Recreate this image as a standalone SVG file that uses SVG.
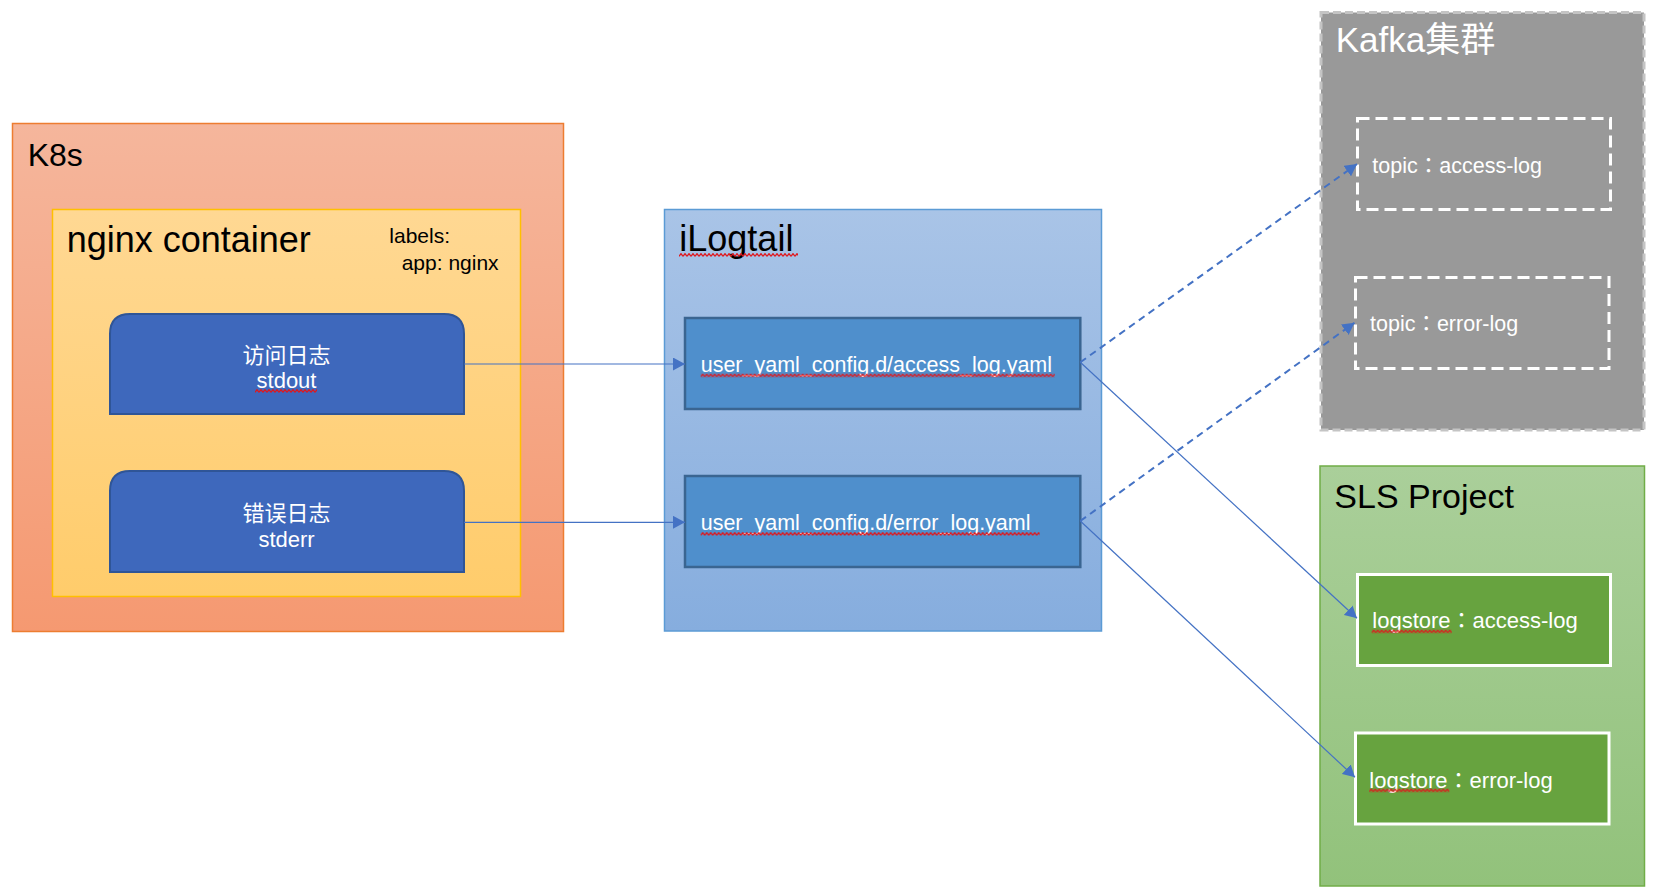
<svg xmlns="http://www.w3.org/2000/svg" width="1658" height="896" viewBox="0 0 1658 896">
<defs>
<linearGradient id="gK8s" x1="0" y1="0" x2="0" y2="1"><stop offset="0" stop-color="#F5B69C"/><stop offset="1" stop-color="#F59971"/></linearGradient>
<linearGradient id="gNginx" x1="0" y1="0" x2="0" y2="1"><stop offset="0" stop-color="#FFD893"/><stop offset="1" stop-color="#FFCC6B"/></linearGradient>
<linearGradient id="gLog" x1="0" y1="0" x2="0" y2="1"><stop offset="0" stop-color="#A9C4E7"/><stop offset="1" stop-color="#86ADDE"/></linearGradient>
<linearGradient id="gSls" x1="0" y1="0" x2="0" y2="1"><stop offset="0" stop-color="#AACF9A"/><stop offset="1" stop-color="#92C27B"/></linearGradient>
<pattern id="wave" width="4" height="4" patternUnits="userSpaceOnUse"><path d="M0 3.3 L2 0.7 L4 3.3" fill="none" stroke="#E0161B" stroke-width="1.3"/></pattern>
<marker id="arr" markerUnits="userSpaceOnUse" markerWidth="12" markerHeight="13" refX="12" refY="6.5" orient="auto"><path d="M0,0 L12,6.5 L0,13 z" fill="#4472C4"/></marker>
</defs>
<style>
text{font-family:"Liberation Sans","Noto Sans CJK SC",sans-serif}
.tc{font-family:"Liberation Sans","Noto Sans CJK TC",sans-serif}
.title{font-size:36px;fill:#000}
.wt{fill:#fff}
.src{fill:#3E68BC;stroke:#2F5597;stroke-width:2}
.cfg{fill:#4F8FCC;stroke:#3A6591;stroke-width:2.5}
.topic{fill:none;stroke:#fff;stroke-width:3;stroke-dasharray:12 6}
.store{fill:#67A33F;stroke:#fff;stroke-width:3}
.solid{fill:none;stroke:#4472C4;stroke-width:1.2;marker-end:url(#arr)}
.dash{fill:none;stroke:#4472C4;stroke-width:2;stroke-dasharray:7 5;marker-end:url(#arr)}
</style>
<rect width="1658" height="896" fill="#fff"/>
<g id="k8s">
<rect x="12.5" y="123.5" width="551" height="508" fill="url(#gK8s)" stroke="#ED7D31" stroke-width="1.5"/>
<text x="27.7" y="166" class="title" style="font-size:32px">K8s</text>
</g>
<g id="nginx-container">
<rect x="52.5" y="209.5" width="468" height="387" fill="url(#gNginx)" stroke="#FFC000" stroke-width="1.5"/>
<text x="66.7" y="251.7" class="title">nginx container</text>
<text x="389.3" y="243.3" style="font-size:21px">labels:</text>
<text x="401.7" y="270" style="font-size:21px">app: nginx</text>
</g>
<g id="stdout">
<path class="src" d="M110,414 L110,334 Q110,314 130,314 L444,314 Q464,314 464,334 L464,414 Z"/>
<text x="286.5" y="362.7" class="wt" text-anchor="middle" style="font-size:22px">访问日志</text>
<text x="286.5" y="388.3" class="wt" text-anchor="middle" style="font-size:22px">stdout</text>
</g>
<g id="stderr">
<path class="src" d="M110,572 L110,491 Q110,471 130,471 L444,471 Q464,471 464,491 L464,572 Z"/>
<text x="286.5" y="520.7" class="wt" text-anchor="middle" style="font-size:22px">错误日志</text>
<text x="286.5" y="546.7" class="wt" text-anchor="middle" style="font-size:22px">stderr</text>
</g>
<g id="ilogtail">
<rect x="664.5" y="209.5" width="437" height="421.5" fill="url(#gLog)" stroke="#5B9BD5" stroke-width="1.5"/>
<text x="679.3" y="251" class="title">iLogtail</text>
</g>
<g id="access-yaml">
<rect x="685" y="318" width="395.3" height="91" class="cfg"/>
<text x="700.7" y="371.7" class="wt" style="font-size:21.5px">user_yaml_config.d/access_log.yaml</text>
</g>
<g id="error-yaml">
<rect x="685" y="476" width="395.3" height="91" class="cfg"/>
<text x="700.7" y="530" class="wt" style="font-size:21.5px">user_yaml_config.d/error_log.yaml</text>
</g>
<g id="kafka">
<rect x="1321" y="12.5" width="323" height="417.5" fill="#999999" stroke="#C4C4C4" stroke-width="3" stroke-dasharray="8 4"/>
<text x="1335.7" y="51.7" class="wt" style="font-size:35px">Kafka集群</text>
</g>
<g id="topic-access">
<rect x="1357.5" y="118.5" width="253" height="91" class="topic"/>
<text x="1372.3" y="172.5" class="wt tc" style="font-size:21.5px">topic：access-log</text>
</g>
<g id="topic-error">
<rect x="1355.5" y="277.5" width="253.5" height="91" class="topic"/>
<text x="1370" y="330.7" class="wt tc" style="font-size:21.5px">topic：error-log</text>
</g>
<g id="sls">
<rect x="1320" y="466" width="324.5" height="420" fill="url(#gSls)" stroke="#70AD47" stroke-width="1.5"/>
<text x="1334.3" y="508.3" class="title" style="font-size:34px">SLS Project</text>
</g>
<g id="logstore-access">
<rect x="1357.5" y="574.5" width="253" height="91" class="store"/>
<text x="1372.3" y="628.3" class="wt tc" style="font-size:22px">logstore：access-log</text>
</g>
<g id="logstore-error">
<rect x="1355.5" y="733" width="253.5" height="91" class="store"/>
<text x="1369.3" y="787.7" class="wt tc" style="font-size:22px">logstore：error-log</text>
</g>
<g id="spellcheck">
<g transform="translate(255,389)"><rect width="62" height="4" fill="url(#wave)"/></g>
<g transform="translate(679,253)"><rect width="119" height="4" fill="url(#wave)"/></g>
<g transform="translate(700.7,373.5)"><rect width="354" height="4" fill="url(#wave)"/></g>
<g transform="translate(700.7,532)"><rect width="339" height="4" fill="url(#wave)"/></g>
<g transform="translate(1371.7,629.5)"><rect width="80" height="4" fill="url(#wave)"/></g>
<g transform="translate(1369.3,788.5)"><rect width="80" height="4" fill="url(#wave)"/></g>
</g>
<g id="connectors">
<path class="solid" d="M464,364 L685,364"/>
<path class="solid" d="M464,522.3 L685,522.3"/>
<path class="dash" d="M1080.3,362.3 L1357,164"/>
<path class="dash" d="M1080.3,521 L1354.5,322.7"/>
<path class="solid" d="M1080.3,362.3 L1357,618.3"/>
<path class="solid" d="M1080.3,521 L1355,777.3"/>
</g>
</svg>
